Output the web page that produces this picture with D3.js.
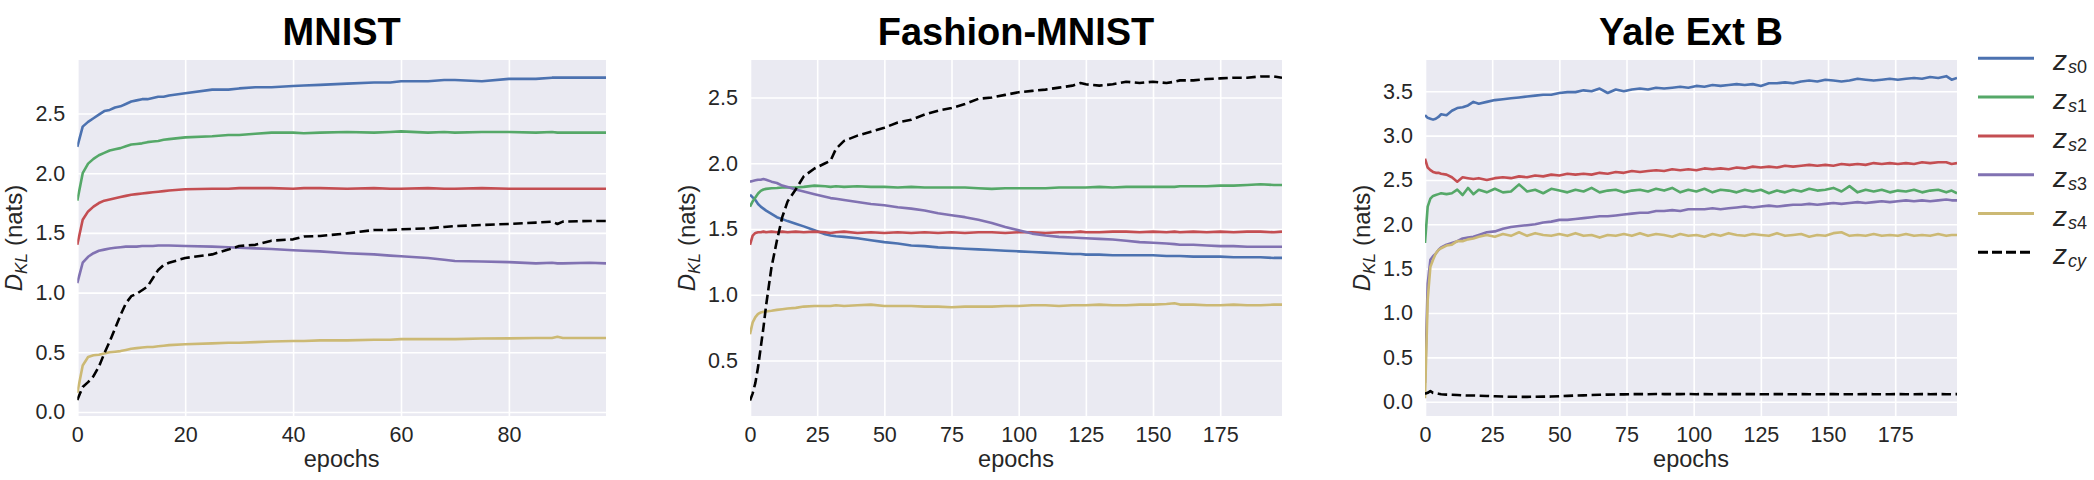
<!DOCTYPE html>
<html lang="en">
<head>
<meta charset="UTF-8">
<title>KL divergence per latent</title>
<style>
  html, body { margin:0; padding:0; background:#fff; }
  svg { display:block; font-family:"Liberation Sans", Arial, sans-serif; }
</style>
</head>
<body>
<script src="https://d3js.org/d3.v7.min.js"></script>
<script>
// ---- data ----
var mnistEpochs = [0,1,2,3,4,5,6,7,8,9,10,11,12,13,14,15,16,17,
    20,25,28,30,33,36,40,42,45,50,
    55,58,60,65,68,70,75,80,85,88,
    89,90,95,98];
var mnistS0 = [2.22,2.39,2.43,2.46,2.49,2.52,2.53,2.55,2.56,2.58,2.60,2.61,2.62,2.62,2.63,2.64,2.64,2.65,
    2.67,2.70,2.70,2.71,2.72,2.72,2.73,2.735,2.74,2.75,
    2.76,2.76,2.77,2.77,2.78,2.78,2.77,2.79,2.79,2.80,
    2.80,2.80,2.80,2.80];
var mnistS1 = [1.77,2.00,2.08,2.12,2.15,2.17,2.19,2.20,2.21,2.225,2.24,2.245,2.25,2.26,2.265,2.27,2.28,2.285,
    2.30,2.31,2.32,2.32,2.33,2.34,2.34,2.335,2.34,2.345,
    2.34,2.345,2.35,2.34,2.345,2.34,2.345,2.345,2.34,2.345,
    2.34,2.34,2.34,2.34];
var mnistS2 = [1.40,1.61,1.68,1.72,1.75,1.77,1.78,1.79,1.80,1.81,1.82,1.825,1.83,1.835,1.84,1.845,1.85,1.855,
    1.865,1.87,1.87,1.875,1.875,1.875,1.87,1.875,1.875,1.87,
    1.875,1.87,1.87,1.875,1.87,1.87,1.875,1.87,1.87,1.87,
    1.87,1.87,1.87,1.87];
var mnistS3 = [1.08,1.25,1.30,1.33,1.35,1.36,1.37,1.375,1.38,1.385,1.385,1.385,1.39,1.39,1.39,1.395,1.395,1.395,
    1.39,1.385,1.38,1.375,1.37,1.365,1.355,1.35,1.345,1.33,
    1.32,1.31,1.305,1.29,1.275,1.265,1.26,1.255,1.245,1.25,
    1.245,1.245,1.25,1.245];
var mnistS4 = [0.16,0.39,0.46,0.475,0.48,0.49,0.50,0.505,0.51,0.52,0.53,0.535,0.54,0.545,0.545,0.55,0.555,0.56,
    0.567,0.575,0.58,0.58,0.585,0.59,0.595,0.595,0.60,0.60,
    0.605,0.605,0.61,0.61,0.61,0.61,0.615,0.617,0.62,0.62,
    0.63,0.62,0.62,0.62];
var mnistCy = [0.10,0.21,0.25,0.30,0.38,0.49,0.59,0.70,0.81,0.91,0.97,0.99,1.02,1.05,1.12,1.19,1.23,1.25,
    1.29,1.32,1.36,1.39,1.40,1.435,1.446,1.47,1.474,1.496,
    1.524,1.524,1.53,1.538,1.55,1.557,1.566,1.575,1.586,1.594,
    1.575,1.594,1.60,1.60];

var fashionEpochs = [0,1,2,3,4,5,6,
    8,10,12,14,17,20,24,28,30,32,
    35,40,45,50,55,60,65,70,75,80,
    85,90,95,100,105,110,115,120,123,125,
    130,135,140,145,150,155,158,160,165,170,
    175,180,185,190,195,198];
var fashionS0 = [1.76,1.74,1.72,1.69,1.67,1.655,1.64,
    1.615,1.59,1.575,1.56,1.54,1.52,1.49,1.46,1.45,1.445,
    1.44,1.43,1.415,1.40,1.39,1.375,1.37,1.36,1.355,1.35,
    1.345,1.34,1.335,1.33,1.325,1.32,1.315,1.31,1.31,1.305,
    1.305,1.30,1.30,1.30,1.30,1.295,1.295,1.295,1.29,1.29,
    1.29,1.285,1.285,1.285,1.28,1.28];
var fashionS1 = [1.67,1.71,1.74,1.77,1.79,1.80,1.805,
    1.81,1.812,1.815,1.815,1.815,1.82,1.83,1.825,1.82,1.825,
    1.82,1.825,1.82,1.82,1.815,1.82,1.815,1.815,1.815,1.815,
    1.81,1.805,1.81,1.81,1.81,1.81,1.815,1.815,1.815,1.815,
    1.82,1.815,1.82,1.82,1.82,1.82,1.82,1.825,1.825,1.825,
    1.83,1.83,1.835,1.84,1.835,1.835];
var fashionS2 = [1.38,1.45,1.47,1.475,1.475,1.48,1.475,
    1.48,1.475,1.48,1.475,1.48,1.475,1.48,1.475,1.47,1.475,
    1.48,1.47,1.475,1.47,1.475,1.47,1.475,1.47,1.475,1.47,
    1.475,1.475,1.47,1.475,1.475,1.47,1.475,1.475,1.48,1.475,
    1.475,1.48,1.48,1.475,1.48,1.475,1.48,1.475,1.48,1.475,
    1.48,1.475,1.48,1.48,1.475,1.48];
var fashionS3 = [1.86,1.865,1.87,1.875,1.875,1.88,1.875,
    1.86,1.85,1.83,1.82,1.80,1.785,1.765,1.745,1.735,1.73,
    1.72,1.705,1.69,1.68,1.665,1.655,1.64,1.62,1.605,1.59,
    1.57,1.545,1.515,1.49,1.465,1.45,1.44,1.435,1.432,1.43,
    1.425,1.42,1.41,1.40,1.395,1.39,1.385,1.38,1.38,1.375,
    1.37,1.37,1.365,1.365,1.365,1.365];
var fashionS4 = [0.70,0.79,0.83,0.855,0.865,0.87,0.873,
    0.878,0.885,0.89,0.895,0.90,0.91,0.915,0.915,0.915,0.92,
    0.915,0.92,0.925,0.915,0.915,0.915,0.91,0.91,0.905,0.91,
    0.91,0.91,0.915,0.915,0.92,0.92,0.915,0.92,0.92,0.92,
    0.925,0.92,0.92,0.925,0.925,0.93,0.935,0.925,0.925,0.92,
    0.92,0.925,0.92,0.92,0.925,0.925];
var fashionCy = [0.195,0.25,0.33,0.45,0.60,0.75,0.92,
    1.21,1.41,1.59,1.71,1.80,1.90,1.96,2.00,2.02,2.11,
    2.17,2.21,2.24,2.27,2.31,2.33,2.37,2.40,2.42,2.45,
    2.49,2.50,2.52,2.54,2.55,2.56,2.575,2.59,2.61,2.60,
    2.59,2.60,2.62,2.61,2.62,2.61,2.62,2.63,2.63,2.64,
    2.645,2.65,2.65,2.66,2.66,2.65];

var yaleEpochs = [0,1,2,3,4,5,6,8,10,12,14,16,18,20,
    23,26,29,32,35,38,41,44,47,50,
    53,56,59,62,65,68,71,74,77,80,
    83,86,89,92,95,98,101,104,107,110,
    113,116,119,122,125,128,131,134,137,140,
    143,146,149,152,155,158,161,164,167,170,
    173,176,179,182,185,188,191,194,196,198];
var yaleS0 = [3.23,3.20,3.19,3.18,3.19,3.21,3.24,3.23,3.28,3.31,3.32,3.34,3.38,3.36,
    3.38,3.40,3.41,3.42,3.43,3.44,3.45,3.46,3.46,3.48,
    3.49,3.49,3.51,3.50,3.53,3.48,3.52,3.50,3.52,3.53,
    3.52,3.54,3.53,3.54,3.55,3.54,3.56,3.55,3.57,3.56,
    3.57,3.58,3.57,3.58,3.56,3.59,3.59,3.60,3.59,3.61,
    3.62,3.61,3.63,3.62,3.61,3.62,3.64,3.63,3.62,3.63,
    3.64,3.63,3.64,3.65,3.64,3.66,3.65,3.67,3.63,3.65];
var yaleS1 = [1.79,2.20,2.29,2.32,2.33,2.34,2.35,2.34,2.35,2.39,2.33,2.41,2.34,2.39,
    2.36,2.40,2.36,2.37,2.45,2.37,2.39,2.35,2.40,2.38,
    2.36,2.39,2.37,2.41,2.36,2.38,2.39,2.36,2.38,2.39,
    2.37,2.40,2.38,2.41,2.36,2.39,2.37,2.40,2.36,2.39,
    2.38,2.36,2.39,2.37,2.39,2.35,2.38,2.36,2.39,2.37,
    2.40,2.38,2.39,2.41,2.37,2.43,2.36,2.39,2.37,2.39,
    2.36,2.38,2.37,2.39,2.36,2.38,2.39,2.36,2.38,2.35];
var yaleS2 = [2.74,2.64,2.61,2.59,2.58,2.58,2.57,2.56,2.53,2.48,2.53,2.52,2.51,2.52,
    2.50,2.52,2.53,2.52,2.54,2.53,2.55,2.54,2.56,2.55,
    2.57,2.56,2.57,2.56,2.58,2.57,2.59,2.58,2.60,2.59,
    2.60,2.61,2.60,2.62,2.61,2.62,2.61,2.63,2.62,2.63,
    2.62,2.64,2.63,2.65,2.64,2.65,2.64,2.66,2.65,2.66,
    2.67,2.66,2.67,2.66,2.68,2.67,2.68,2.67,2.69,2.68,
    2.69,2.68,2.69,2.68,2.70,2.69,2.70,2.70,2.68,2.69];
var yaleS3 = [0.21,1.33,1.60,1.64,1.67,1.71,1.74,1.77,1.79,1.81,1.84,1.85,1.86,1.88,
    1.91,1.92,1.95,1.97,1.98,1.99,2.00,2.02,2.03,2.05,
    2.05,2.06,2.07,2.08,2.09,2.09,2.10,2.11,2.12,2.13,
    2.13,2.15,2.15,2.16,2.15,2.17,2.17,2.17,2.18,2.17,
    2.18,2.19,2.20,2.19,2.20,2.21,2.20,2.21,2.22,2.22,
    2.23,2.22,2.23,2.24,2.23,2.24,2.25,2.24,2.25,2.26,
    2.25,2.26,2.27,2.26,2.27,2.26,2.27,2.28,2.27,2.27];
var yaleS4 = [0.04,1.15,1.52,1.60,1.67,1.71,1.73,1.76,1.77,1.81,1.81,1.83,1.84,1.86,
    1.88,1.86,1.89,1.87,1.91,1.87,1.90,1.88,1.87,1.89,
    1.87,1.90,1.87,1.88,1.85,1.88,1.87,1.89,1.87,1.90,
    1.87,1.89,1.88,1.86,1.89,1.87,1.88,1.86,1.89,1.87,
    1.90,1.88,1.87,1.89,1.88,1.87,1.90,1.87,1.88,1.89,
    1.86,1.88,1.87,1.90,1.91,1.87,1.88,1.87,1.89,1.87,
    1.88,1.87,1.89,1.87,1.88,1.87,1.89,1.87,1.88,1.88];
var yaleCy = [0.09,0.10,0.12,0.10,0.095,0.09,0.085,0.08,0.078,0.075,0.072,0.07,0.07,0.068,
    0.065,0.062,0.058,0.056,0.055,0.055,0.056,0.057,0.058,0.062,
    0.066,0.07,0.072,0.075,0.078,0.08,0.082,0.083,0.085,0.086,
    0.085,0.087,0.086,0.085,0.086,0.087,0.085,0.086,0.084,0.086,
    0.085,0.087,0.085,0.086,0.084,0.085,0.086,0.085,0.084,0.086,
    0.085,0.084,0.085,0.086,0.083,0.085,0.084,0.086,0.085,0.084,
    0.085,0.086,0.085,0.084,0.086,0.085,0.086,0.085,0.084,0.086];

var mnistXTicks = [0, 20, 40, 60, 80];
var longXTicks = [0, 25, 50, 75, 100, 125, 150, 175];
var mnistYTicks = [0.0, 0.5, 1.0, 1.5, 2.0, 2.5];
var fashionYTicks = [0.5, 1.0, 1.5, 2.0, 2.5];
var yaleYTicks = [0.0, 0.5, 1.0, 1.5, 2.0, 2.5, 3.0, 3.5];

var legendMain = ['z', 'z', 'z', 'z', 'z', 'z'];
var legendSub = [['s', '0'], ['s', '1'], ['s', '2'], ['s', '3'], ['s', '4'], ['cy', '']];

// ---- layout ----
var width = 2094, height = 480;
var plotTop = 60, plotBottom = 416;
var colors = ['#4C72B0', '#55A868', '#C44E52', '#8172B2', '#CCB974', '#000000'];
var textColor = '#262626';

var panels = [
    {title: 'MNIST', epochs: mnistEpochs, series: [mnistS0, mnistS1, mnistS2, mnistS3, mnistS4, mnistCy],
     xMax: 98, yDom: [-0.0335, 2.948], xTicks: mnistXTicks, yTicks: mnistYTicks, left: 77.3, right: 606},
    {title: 'Fashion-MNIST', epochs: fashionEpochs, series: [fashionS0, fashionS1, fashionS2, fashionS3, fashionS4, fashionCy],
     xMax: 198, yDom: [0.078, 2.785], xTicks: longXTicks, yTicks: fashionYTicks, left: 750, right: 1282},
    {title: 'Yale Ext B', epochs: yaleEpochs, series: [yaleS0, yaleS1, yaleS2, yaleS3, yaleS4, yaleCy],
     xMax: 198, yDom: [-0.161, 3.852], xTicks: longXTicks, yTicks: yaleYTicks, left: 1425, right: 1957}
];

var svg = d3.select('body').append('svg')
            .attr('width', width)
            .attr('height', height);

svg.append('rect').attr('width', width).attr('height', height).attr('fill', '#fff');

panels.forEach(function(p, pi) {
    var x = d3.scaleLinear().domain([0, p.xMax]).range([p.left, p.right]),
        y = d3.scaleLinear().domain(p.yDom).range([plotBottom, plotTop]);

    var g = svg.append('g');

    g.append('rect')
     .attr('x', p.left).attr('y', plotTop)
     .attr('width', p.right - p.left).attr('height', plotBottom - plotTop)
     .attr('fill', '#EAEAF2');

    var xAxis = g.append('g')
        .attr('transform', 'translate(0,' + plotBottom + ')')
        .call(d3.axisBottom(x).tickValues(p.xTicks).tickSize(-(plotBottom - plotTop)).tickPadding(11).tickFormat(d3.format('d')));

    var yAxis = g.append('g')
        .attr('transform', 'translate(' + p.left + ',0)')
        .call(d3.axisLeft(y).tickValues(p.yTicks).tickSize(-(p.right - p.left)).tickPadding(12).tickFormat(d3.format('.1f')));

    [xAxis, yAxis].forEach(function(ax) {
        ax.select('.domain').remove();
        ax.selectAll('.tick line').attr('stroke', '#fff').attr('stroke-width', 1.6);
        ax.selectAll('.tick text')
          .attr('fill', textColor)
          .style('font-family', '"Liberation Sans", Arial, sans-serif')
          .style('font-size', '21.5px');
    });

    var clipId = 'clip' + pi;
    g.append('clipPath').attr('id', clipId)
     .append('rect')
     .attr('x', p.left).attr('y', plotTop)
     .attr('width', p.right - p.left).attr('height', plotBottom - plotTop);

    var line = d3.line()
                 .x(function(d, i) { return x(p.epochs[i]); })
                 .y(function(d) { return y(d); });

    g.append('g').attr('clip-path', 'url(#' + clipId + ')')
     .selectAll('path')
     .data(p.series)
     .enter()
     .append('path')
     .attr('d', line)
     .attr('fill', 'none')
     .attr('stroke', function(d, i) { return colors[i]; })
     .attr('stroke-width', 2.6)
     .attr('stroke-linejoin', 'round')
     .attr('stroke-dasharray', function(d, i) { return i === 5 ? '9.5,4.5' : null; });

    // title
    g.append('text')
     .attr('x', (p.left + p.right) / 2)
     .attr('y', 45)
     .attr('text-anchor', 'middle')
     .attr('font-size', '38px')
     .attr('font-weight', 'bold')
     .attr('fill', '#000')
     .text(p.title);

    // x label
    g.append('text')
     .attr('x', (p.left + p.right) / 2)
     .attr('y', 467)
     .attr('text-anchor', 'middle')
     .attr('font-size', '23.5px')
     .attr('fill', textColor)
     .text('epochs');

    // y label
    var yl = g.append('text')
        .attr('transform', 'translate(' + (p.left - 55) + ',' + ((plotTop + plotBottom) / 2) + ') rotate(-90)')
        .attr('text-anchor', 'middle')
        .attr('font-size', '24px')
        .attr('fill', textColor);
    yl.append('tspan').attr('font-style', 'italic').text('D');
    yl.append('tspan').attr('font-style', 'italic').attr('font-size', '17px').attr('dy', 5).text('KL');
    yl.append('tspan').attr('dy', -5).attr('dx', 7).text('(nats)');
});

// legend
var legend = svg.append('g');
var legendY = d3.scalePoint().domain(d3.range(legendMain.length)).range([58.3, 252.3]);

legendMain.forEach(function(m, i) {
    var ly = legendY(i);
    legend.append('line')
          .attr('x1', 1978).attr('x2', 2034)
          .attr('y1', ly).attr('y2', ly)
          .attr('stroke', colors[i])
          .attr('stroke-width', 3)
          .attr('stroke-dasharray', i === 5 ? '10,4' : null);

    var t = legend.append('text')
                  .attr('x', 2053)
                  .attr('y', ly + 12)
                  .attr('fill', textColor)
                  .attr('font-size', '28px');
    t.append('tspan').attr('font-style', 'italic').text(m);
    t.append('tspan').attr('font-style', 'italic').attr('font-size', '18px').attr('dy', 3).attr('dx', 1).text(legendSub[i][0]);
    if (legendSub[i][1]) {
        t.append('tspan').attr('font-size', '18px').text(legendSub[i][1]);
    }
});
</script>
</body>
</html>
